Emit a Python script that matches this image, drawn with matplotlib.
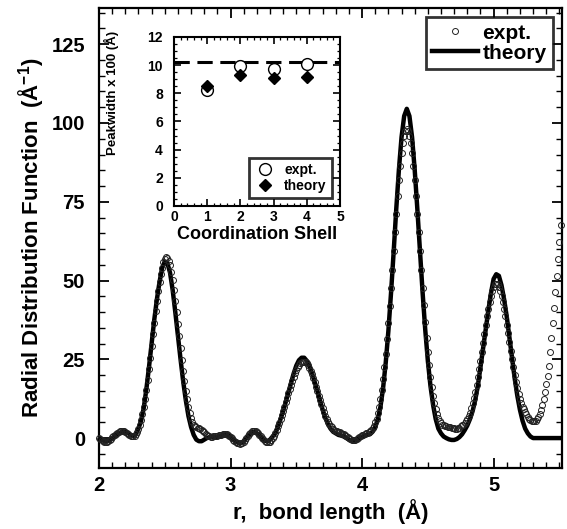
import numpy as np
import matplotlib
matplotlib.use("Agg")
import matplotlib.pyplot as plt
from matplotlib.ticker import MultipleLocator

plt.rcParams['font.family'] = ['Liberation Sans', 'DejaVu Sans']
plt.rcParams['font.weight'] = 'bold'
plt.rcParams['axes.labelweight'] = 'bold'
plt.rcParams['mathtext.fontset'] = 'custom'
plt.rcParams['mathtext.rm'] = 'Liberation Sans:bold'
plt.rcParams['mathtext.it'] = 'Liberation Sans:bold'
plt.rcParams['mathtext.bf'] = 'Liberation Sans:bold'

# --- main panel: radial distribution function ---
# theory curve, r = 2.00 ... 5.52 in steps of 0.02
theory_g = [
    0.0, -0.5, -1.0, -1.0, -0.6, 0.0, 0.6, 1.2, 1.7, 2.0,
    2.0, 1.6, 1.0, 0.7, 1.2, 3.0, 5.5, 9.5, 15.5, 22.5,
    30.0, 37.5, 44.0, 49.5, 54.0, 56.0, 55.5, 52.5, 47.0, 40.0,
    32.5, 25.0, 18.0, 12.0, 7.0, 3.5, 1.0, -0.5, -1.0, -1.0,
    -0.5, 0.0, 0.3, 0.3, 0.2, 0.3, 0.6, 1.0, 1.2, 1.0,
    0.5, -0.3, -1.0, -1.5, -1.5, -1.0, 0.0, 1.0, 1.8, 2.0,
    1.6, 0.8, -0.2, -0.8, -1.0, -0.5, 0.5, 1.5, 3.5, 6.0,
    8.5, 11.5, 14.5, 17.5, 20.5, 23.0, 24.7, 25.5, 25.5, 24.5,
    22.8, 20.5, 17.8, 15.0, 12.0, 9.0, 6.5, 4.5, 3.0, 2.0,
    1.5, 1.0, 0.8, 0.5, 0.0, -0.5, -0.8, -0.8, -0.5, 0.0,
    0.5, 0.8, 1.0, 1.2, 2.0, 3.5, 6.0, 10.0, 16.0, 24.0,
    34.0, 46.0, 59.0, 72.8, 85.2, 95.5, 102.2, 104.5, 102.2, 95.5,
    85.2, 72.8, 59.3, 46.3, 34.5, 24.5, 16.5, 10.5, 6.0, 3.0,
    1.5, 0.5, 0.0, -0.4, -0.6, -0.6, -0.3, 0.3, 1.2, 2.5,
    4.0, 6.0, 8.5, 12.0, 16.5, 22.5, 28.5, 34.5, 40.5, 46.0,
    50.5, 52.0, 51.5, 48.5, 44.0, 38.5, 32.0, 25.5, 19.0, 13.5,
    9.0, 5.5, 3.0, 1.5, 0.5, 0.0, 0.0, 0.0, 0.0, 0.0,
    0.0, 0.0, 0.0, 0.0, 0.0, 0.0, 0.0,
]
theory_r = np.linspace(2.00, 5.52, len(theory_g))

# experiment, r = 2.00 ... 5.51 in steps of 0.01
expt_g = [
    0.0, -0.3, -0.7, -1.0, -1.2, -1.3, -1.2, -1.0, -0.6, -0.2,
    0.2, 0.6, 1.0, 1.4, 1.7, 2.0, 2.2, 2.3, 2.3, 2.2,
    2.0, 1.7, 1.3, 1.0, 0.7, 0.5, 0.5, 0.7, 1.2, 2.0,
    3.0, 4.3, 5.8, 7.6, 9.8, 12.4, 15.3, 18.5, 21.9, 25.5,
    29.2, 32.9, 36.6, 40.2, 43.6, 46.7, 49.5, 52.0, 54.1, 55.8,
    56.9, 57.4, 57.2, 56.3, 54.8, 52.7, 50.1, 47.0, 43.6, 40.0,
    36.2, 32.3, 28.5, 24.8, 21.3, 18.0, 15.0, 12.3, 10.0, 8.0,
    6.4, 5.2, 4.3, 3.8, 3.5, 3.3, 3.1, 2.9, 2.6, 2.2,
    1.8, 1.4, 1.0, 0.7, 0.5, 0.4, 0.4, 0.5, 0.6, 0.7,
    0.8, 0.9, 1.0, 1.1, 1.2, 1.3, 1.3, 1.2, 1.0, 0.7,
    0.3, -0.1, -0.5, -0.9, -1.2, -1.5, -1.7, -1.8, -1.7, -1.5,
    -1.1, -0.6, 0.0, 0.6, 1.2, 1.7, 2.1, 2.3, 2.4, 2.3,
    2.0, 1.6, 1.1, 0.6, 0.1, -0.4, -0.8, -1.1, -1.3, -1.3,
    -1.1, -0.7, -0.1, 0.7, 1.6, 2.6, 3.7, 4.9, 6.1, 7.4,
    8.7, 10.0, 11.4, 12.8, 14.2, 15.6, 16.9, 18.2, 19.4, 20.5,
    21.5, 22.4, 23.1, 23.7, 24.1, 24.3, 24.3, 24.1, 23.7, 23.1,
    22.3, 21.3, 20.2, 19.0, 17.7, 16.3, 14.9, 13.5, 12.1, 10.7,
    9.4, 8.2, 7.1, 6.1, 5.2, 4.5, 3.9, 3.4, 3.0, 2.7,
    2.4, 2.2, 2.0, 1.8, 1.6, 1.4, 1.2, 0.9, 0.6, 0.3,
    0.0, -0.3, -0.5, -0.6, -0.6, -0.5, -0.3, 0.0, 0.3, 0.6,
    0.9, 1.1, 1.3, 1.5, 1.7, 2.0, 2.3, 2.7, 3.1, 3.7,
    5.0, 6.2, 8.0, 9.9, 12.3, 15.3, 18.6, 22.4, 26.6, 31.5,
    36.5, 42.0, 47.5, 53.4, 59.5, 65.4, 71.1, 76.7, 81.8, 86.4,
    90.5, 93.7, 96.0, 97.5, 98.0, 97.5, 96.0, 93.7, 90.5, 86.4,
    81.8, 76.7, 71.1, 65.4, 59.5, 53.5, 47.7, 42.1, 36.8, 31.9,
    27.2, 23.1, 19.4, 16.1, 13.3, 11.0, 9.1, 7.6, 6.4, 5.5,
    4.8, 4.3, 4.0, 3.8, 3.7, 3.6, 3.5, 3.4, 3.3, 3.2,
    3.1, 3.0, 3.0, 3.1, 3.3, 3.7, 4.0, 4.3, 4.7, 5.3,
    6.1, 7.0, 8.1, 9.4, 11.0, 12.8, 14.7, 16.9, 19.3, 21.9,
    24.6, 27.4, 30.2, 33.1, 35.9, 38.6, 41.0, 43.2, 45.2, 46.8,
    48.0, 48.8, 49.0, 48.8, 48.0, 46.8, 45.2, 43.3, 41.1, 38.7,
    36.0, 33.2, 30.4, 27.7, 25.0, 22.4, 20.0, 17.8, 15.8, 14.1,
    12.5, 11.1, 10.0, 9.1, 8.4, 7.7, 6.8, 6.2, 5.8, 5.5,
    5.3, 5.3, 5.5, 5.9, 6.6, 7.6, 8.9, 10.5, 12.4, 14.6,
    17.1, 19.8, 23.0, 27.2, 31.8, 36.5, 41.3, 46.3, 51.5, 56.8,
    62.2, 67.5,
]
expt_r = np.linspace(2.00, 5.51, len(expt_g))

# --- inset: peak widths per coordination shell ---
shells = [1, 2, 3, 4]
expt_width = [8.2, 9.95, 9.75, 10.1]
expt_err = [0.15, 0.35, 0.25, 0.25]
theory_width = [8.55, 9.3, 9.1, 9.15]
ref_width = 10.2

fig = plt.figure(figsize=(5.67, 5.29), dpi=100)
ax = fig.add_axes([0.1746, 0.1153, 0.8166, 0.8696])

ax.plot(theory_r, theory_g, color='black', lw=3.2, label='theory', zorder=3)
ax.plot(expt_r, expt_g, ls='none', marker='o', ms=4.3, mfc='none', mec='#222222',
        mew=0.7, label='expt.', zorder=4, clip_on=False)

ax.set_xlim(2.0, 5.52)
ax.set_ylim(-9.5, 136.5)
ax.xaxis.set_major_locator(MultipleLocator(1))
ax.xaxis.set_minor_locator(MultipleLocator(0.1))
ax.yaxis.set_major_locator(MultipleLocator(25))
ax.yaxis.set_minor_locator(MultipleLocator(5))
ax.tick_params(which='both', direction='in', top=True, right=True, labelsize=14.5)
ax.tick_params(which='major', length=7, width=1.3)
ax.tick_params(which='minor', length=4, width=1.0)
ax.tick_params(axis='y', pad=10)
ax.tick_params(axis='x', pad=6)
for s in ax.spines.values():
    s.set_linewidth(1.6)

ax.set_xlabel('r,  bond length  (Å)', fontsize=16, labelpad=3)
ax.set_ylabel('Radial Distribution Function  (Å$^{-1}$)', fontsize=16, labelpad=4)

h, l = ax.get_legend_handles_labels()
leg = ax.legend(h[::-1], l[::-1], loc='upper right', fontsize=15, frameon=True,
                fancybox=False, edgecolor='black', handlelength=2.2,
                handletextpad=0.2, labelspacing=0.05, borderpad=0.3,
                borderaxespad=0.45)
leg.get_frame().set_linewidth(2.0)

# inset
axin = fig.add_axes([0.3069, 0.6106, 0.2928, 0.3195])
axin.axhline(ref_width, color='black', lw=2.2, ls=(0, (5, 2.5)), zorder=1)
eb = axin.errorbar(shells, expt_width, yerr=expt_err, fmt='o', ms=8.5, mfc='white',
                   mec='black', mew=1.0, ecolor='black', elinewidth=1.0, capsize=2,
                   label='expt.', zorder=2)
th, = axin.plot(shells, theory_width, ls='none', marker='D', ms=6.5, color='black',
                label='theory', zorder=3)
axin.set_xlim(0, 5)
axin.set_ylim(0, 12)
axin.xaxis.set_major_locator(MultipleLocator(1))
axin.xaxis.set_minor_locator(MultipleLocator(0.2))
axin.yaxis.set_major_locator(MultipleLocator(2))
axin.yaxis.set_minor_locator(MultipleLocator(0.5))
axin.tick_params(which='both', direction='in', top=True, right=True, labelsize=10)
axin.tick_params(which='major', length=5, width=1.2)
axin.tick_params(which='minor', length=2.5, width=0.9)
axin.tick_params(axis='y', pad=8)
axin.tick_params(axis='x', pad=3)
for s in axin.spines.values():
    s.set_linewidth(1.5)
axin.set_xlabel('Coordination Shell', fontsize=13, labelpad=1)
axin.set_ylabel('Peakwidth x 100 (Å)', fontsize=9.5)
axin.yaxis.set_label_coords(-0.33, 0.67)
legin = axin.legend([eb[0], th], ['expt.', 'theory'], loc='lower right', fontsize=10,
                    frameon=True, fancybox=False, edgecolor='black',
                    handletextpad=0.6, labelspacing=0.15, borderpad=0.35,
                    borderaxespad=0.6, handlelength=1.6)
legin.get_frame().set_linewidth(2.0)

plt.savefig('out.png', dpi=100)
